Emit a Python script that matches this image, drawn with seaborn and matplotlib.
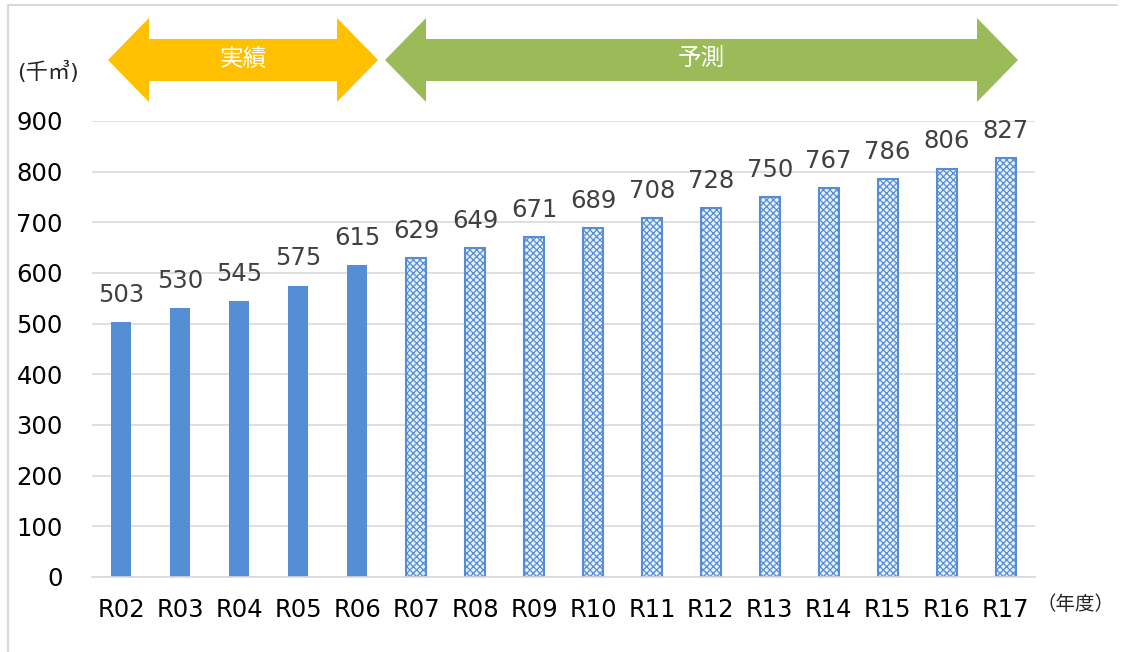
import matplotlib
matplotlib.use('Agg')
import matplotlib.pyplot as plt
import seaborn as sns
import pandas as pd
from matplotlib.patches import Polygon
from matplotlib.lines import Line2D

# datos
years = ['R02', 'R03', 'R04', 'R05', 'R06', 'R07', 'R08', 'R09',
         'R10', 'R11', 'R12', 'R13', 'R14', 'R15', 'R16', 'R17']
volumes = [503, 530, 545, 575, 615, 629, 649, 671,
           689, 708, 728, 750, 767, 786, 806, 827]
kinds = ['実績'] * 5 + ['予測'] * 11
yticks = [0, 100, 200, 300, 400, 500, 600, 700, 800, 900]

df = pd.DataFrame({'year': years, 'volume': volumes, 'kind': kinds})

sns.set_theme(style='white')
plt.rcParams['font.family'] = ['DejaVu Sans', 'Noto Sans CJK JP']
plt.rcParams['hatch.linewidth'] = 0.9

W, H = 1127, 652
fig = plt.figure(figsize=(W / 100, H / 100), dpi=100)
ax = fig.add_axes([92 / W, 1 - 577 / H, (1035 - 92) / W, (577 - 121) / H])

blue = '#558ed5'
sns.barplot(data=df, x='year', y='volume', color=blue, width=0.34,
            saturation=1, ax=ax)

for patch, k in zip(ax.patches, kinds):
    if k == '予測':
        patch.set_facecolor('#e8f0fb')
        patch.set_hatch('xxxxx')
        patch.set_edgecolor(blue)
        patch.set_linewidth(1.5)
    else:
        patch.set_linewidth(0)

for i, v in enumerate(volumes):
    ax.text(i, v + 30, str(v), ha='center', va='bottom', fontsize=17.5,
            color='#404040')

ax.set_ylim(0, 900)
ax.set_xlim(-0.5, len(years) - 0.5)
ax.set_yticks(yticks)
ax.yaxis.grid(True, color='#d9d9d9', linewidth=1.2)
ax.set_axisbelow(True)
for s in ['left', 'right', 'top']:
    ax.spines[s].set_visible(False)
ax.spines['bottom'].set_color('#d9d9d9')
ax.spines['bottom'].set_linewidth(1.2)
ax.tick_params(axis='y', labelsize=17.5, colors='black', length=0, pad=21)
ax.tick_params(axis='x', labelsize=17.5, colors='black', length=0, pad=15)
ax.set_xlabel('')
ax.set_ylabel('')

# textos de unidades
fig.text(17 / W, 1 - 72 / H, '(千㎥)', fontsize=16, va='center', ha='left',
         family=['DejaVu Sans', 'Noto Sans CJK JP'])
fig.text(1036 / W, 1 - 604 / H, '（年度）', fontsize=14, va='center', ha='left',
         family=['Noto Sans CJK JP', 'DejaVu Sans'])


# flechas dobles
def double_arrow(x0, x1, color, label):
    yc, hh, bh, head = 60, 42, 21, 41
    pts = [(x0, yc), (x0 + head, yc - hh), (x0 + head, yc - bh),
           (x1 - head, yc - bh), (x1 - head, yc - hh), (x1, yc),
           (x1 - head, yc + hh), (x1 - head, yc + bh), (x0 + head, yc + bh),
           (x0 + head, yc + hh)]
    pts = [(x / W, 1 - y / H) for x, y in pts]
    fig.patches.append(Polygon(pts, closed=True, facecolor=color,
                               edgecolor='none', transform=fig.transFigure))
    fig.text((x0 + x1) / 2 / W, 1 - (yc - 1) / H, label, color='white', fontsize=17,
             ha='center', va='center', family=['Noto Sans CJK JP', 'DejaVu Sans'])


double_arrow(108, 378, '#ffc000', '実績')
double_arrow(385, 1018, '#9bbb59', '予測')

# borde del gráfico
fig.lines.append(Line2D([8 / W, 8 / W], [0, 1 - 5 / H], color='#d9d9d9',
                        linewidth=1.5, transform=fig.transFigure))
fig.lines.append(Line2D([8 / W, 1117 / W], [1 - 5 / H, 1 - 5 / H], color='#d9d9d9',
                        linewidth=1.5, transform=fig.transFigure))

fig.savefig('out.png', dpi=100)
